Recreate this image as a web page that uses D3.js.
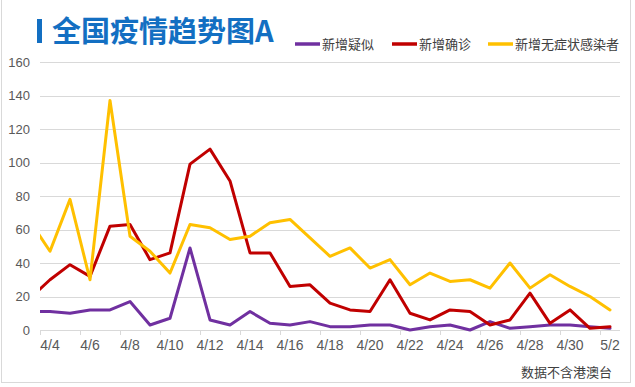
<!DOCTYPE html>
<html>
<head>
<meta charset="utf-8">
<script src="https://cdn.jsdelivr.net/npm/d3@7"></script>
<style>
  html, body { margin: 0; padding: 0; background: #fff; }
  svg { display: block; }
</style>
</head>
<body>
<div id="chart"></div>
<script>
// datos (4/3 queda recortado por el borde izquierdo)
const fechas = ["4/3","4/4","4/5","4/6","4/7","4/8","4/9","4/10","4/11","4/12","4/13","4/14","4/15","4/16","4/17",
  "4/18","4/19","4/20","4/21","4/22","4/23","4/24","4/25","4/26","4/27","4/28","4/29","4/30","5/1","5/2"];
const etiquetasX = ["4/4","4/6","4/8","4/10","4/12","4/14","4/16","4/18","4/20","4/22","4/24","4/26","4/28","4/30","5/2"];
const ticksY = [0, 20, 40, 60, 80, 100, 120, 140, 160];

const nuevosSospechosos = [11, 11, 10, 12, 12, 17, 3, 7, 49, 6, 3, 11, 4, 3, 5, 2, 2, 3, 3, 0, 2, 3, 0, 5, 1, 2, 3, 3, 2, 1];
const nuevosConfirmados = [19, 30, 39, 32, 62, 63, 42, 46, 99, 108, 89, 46, 46, 26, 27, 16, 12, 11, 30, 10, 6, 12, 11, 3, 6, 22, 4, 12, 1, 2];
const nuevosAsintomaticos = [65, 47, 78, 30, 137, 56, 47, 34, 63, 61, 54, 56, 64, 66, 55, 44, 49, 37, 42, 27, 34, 29, 30, 25, 40, 25, 33, 26, 20, 12];

const series = [
  { nombre: "新增疑似", valores: nuevosSospechosos, color: "#7030a0" },
  { nombre: "新增确诊", valores: nuevosConfirmados, color: "#c00000" },
  { nombre: "新增无症状感染者", valores: nuevosAsintomaticos, color: "#ffc000" }
];

const ancho = 635, alto = 387;
const izq = 40, der = 620, arriba = 62, abajo = 330;
const fuenteCJK = "'Noto Sans CJK SC', 'Noto Sans', sans-serif";
const fuenteNum = "'Liberation Sans', Arial, sans-serif";

const svg = d3.select("#chart").append("svg")
  .attr("width", ancho)
  .attr("height", alto);

// marco exterior
svg.append("rect")
  .attr("x", 1.5).attr("y", -2)
  .attr("width", 629).attr("height", 384.5)
  .attr("fill", "none")
  .attr("stroke", "#d9d9d9");

// titulo
svg.append("rect")
  .attr("x", 37).attr("y", 19)
  .attr("width", 5).attr("height", 24)
  .attr("fill", "#136fc2");
svg.append("text")
  .attr("x", 52).attr("y", 42)
  .attr("font-family", fuenteCJK)
  .attr("font-weight", "bold")
  .attr("font-size", 29)
  .attr("fill", "#136fc2")
  .text("全国疫情趋势图A");

// escalas: cada fecha ocupa una banda de 20px, la primera queda fuera del area
const x = d3.scaleBand()
  .domain(fechas)
  .range([izq - 20, der]);
const cx = d => x(d) + x.bandwidth() / 2;

const y = d3.scaleLinear()
  .domain([0, 160])
  .range([abajo, arriba]);

// rejilla horizontal
svg.append("g")
  .selectAll("line")
  .data(ticksY)
  .enter()
  .append("line")
  .attr("x1", izq).attr("x2", der)
  .attr("y1", d => Math.round(y(d)) + 0.5)
  .attr("y2", d => Math.round(y(d)) + 0.5)
  .attr("stroke", "#d9d9d9")
  .attr("stroke-width", 1);

// etiquetas del eje Y
svg.append("g")
  .selectAll("text")
  .data(ticksY)
  .enter()
  .append("text")
  .attr("x", 30)
  .attr("y", d => y(d))
  .attr("dy", "0.36em")
  .attr("text-anchor", "end")
  .attr("font-family", fuenteNum)
  .attr("font-size", 13)
  .attr("fill", "#595959")
  .text(d => d);

// marcas del eje X entre categorias
svg.append("g")
  .selectAll("line")
  .data(etiquetasX)
  .enter()
  .append("line")
  .attr("x1", d => x(d) + 0.5)
  .attr("x2", d => x(d) + 0.5)
  .attr("y1", abajo)
  .attr("y2", abajo + 5)
  .attr("stroke", "#d9d9d9");

svg.append("g")
  .selectAll("text")
  .data(etiquetasX)
  .enter()
  .append("text")
  .attr("x", d => cx(d))
  .attr("y", 350)
  .attr("text-anchor", "middle")
  .attr("font-family", fuenteNum)
  .attr("font-size", 14)
  .attr("fill", "#595959")
  .text(d => d);

// lineas
svg.append("clipPath")
  .attr("id", "recorte")
  .append("rect")
  .attr("x", izq).attr("y", 0)
  .attr("width", der - izq).attr("height", alto);

const linea = d3.line()
  .x((v, i) => cx(fechas[i]))
  .y(v => y(v));

svg.append("g")
  .attr("clip-path", "url(#recorte)")
  .selectAll("path")
  .data(series)
  .enter()
  .append("path")
  .attr("d", d => linea(d.valores))
  .attr("fill", "none")
  .attr("stroke", d => d.color)
  .attr("stroke-width", 3)
  .attr("stroke-linejoin", "round")
  .attr("stroke-linecap", "round");

// leyenda
const posLeyenda = [295, 392, 488];
const leyenda = svg.append("g")
  .selectAll("g")
  .data(series)
  .enter()
  .append("g")
  .attr("transform", (d, i) => `translate(${posLeyenda[i]},44)`);

leyenda.append("line")
  .attr("x1", 0).attr("x2", 25)
  .attr("stroke", d => d.color)
  .attr("stroke-width", 3.5);

leyenda.append("text")
  .attr("x", 27)
  .attr("dy", "0.36em")
  .attr("font-family", fuenteCJK)
  .attr("font-size", 13)
  .attr("fill", "#404040")
  .text(d => d.nombre);

// nota al pie
svg.append("text")
  .attr("x", 612).attr("y", 377)
  .attr("text-anchor", "end")
  .attr("font-family", fuenteCJK)
  .attr("font-size", 13)
  .attr("fill", "#404040")
  .text("数据不含港澳台");
</script>
</body>
</html>
